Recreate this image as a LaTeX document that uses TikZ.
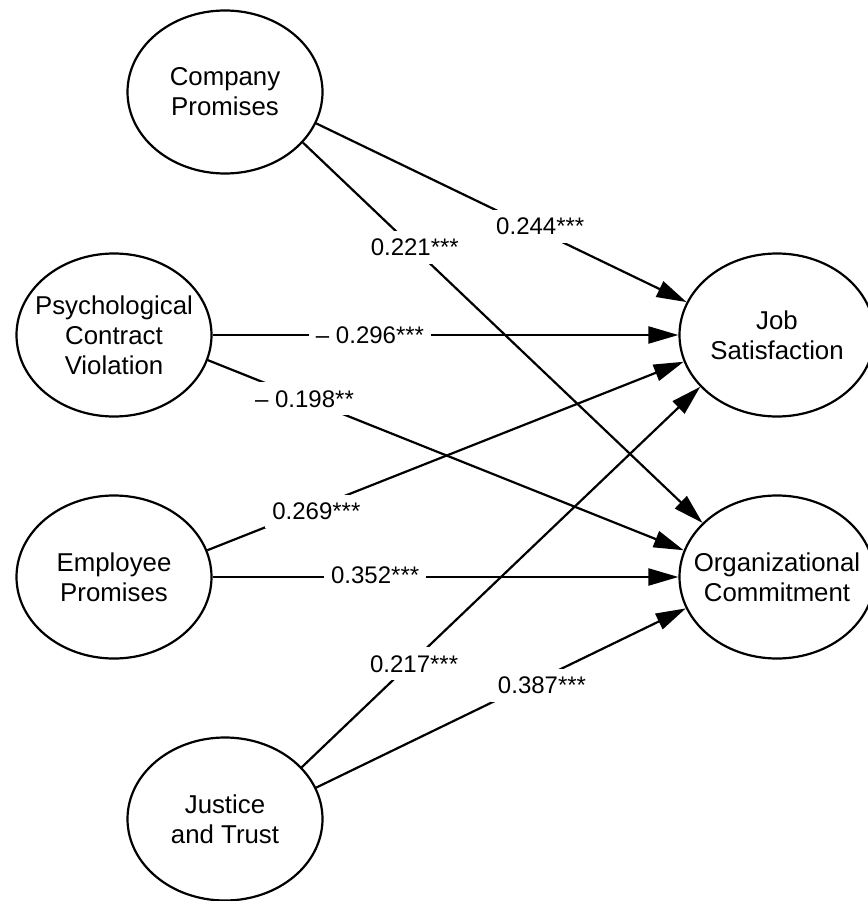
\documentclass[tikz,border=0pt]{standalone}
\usepackage{fontspec}
\setmainfont{Liberation Sans}
\usetikzlibrary{shapes.geometric,arrows.meta}
\begin{document}
\begin{tikzpicture}[x=1pt,y=-1pt,
  latent/.style={ellipse,draw,line width=2.2pt,minimum width=195pt,minimum height=163pt,inner sep=-60pt,align=center,font=\fontsize{25.8}{30}\selectfont},
  conn/.style={line width=2.2pt,-{Triangle[length=30pt,width=17pt]}},
  coef/.style={fill=white,inner xsep=7pt,inner ysep=8pt,font=\fontsize{24}{28}\selectfont}]
\useasboundingbox (0,0) rectangle (867,901);
\node[latent] (cp) at (225,92) {Company\\Promises};
\node[latent] (pcv) at (114,335) {Psychological\\Contract\\Violation};
\node[latent] (ep) at (114,577) {Employee\\Promises};
\node[latent] (jt) at (225,819) {Justice\\and Trust};
\node[latent] (js) at (777,335) {Job\\Satisfaction};
\node[latent] (oc) at (777,577) {Organizational\\Commitment};

\draw[conn] (cp.-19.5) -- node[coef,pos=0.605,yshift=5pt]{0.244***} (js.160.8);
\draw[conn] (cp.-33.7) -- node[coef,pos=0.28,yshift=2pt]{0.221***} (oc.144.8);
\draw[conn] (pcv.0) -- node[coef,pos=0.338]{– 0.296***} (js.180);
\draw[conn] (pcv.-15.9) -- node[coef,pos=0.203]{– 0.198**} (oc.164);
\draw[conn] (ep.16.4) -- node[coef,pos=0.229,yshift=-4pt]{0.269***} (js.196.4);
\draw[conn] (ep.0) -- node[coef,pos=0.349,yshift=2pt]{0.352***} (oc.180);
\draw[conn] (jt.34.2) -- node[coef,pos=0.282,yshift=-4pt]{0.217***} (js.214.5);
\draw[conn] (jt.19) -- node[coef,pos=0.611,yshift=-7pt]{0.387***} (oc.199.4);
\end{tikzpicture}
\end{document}
